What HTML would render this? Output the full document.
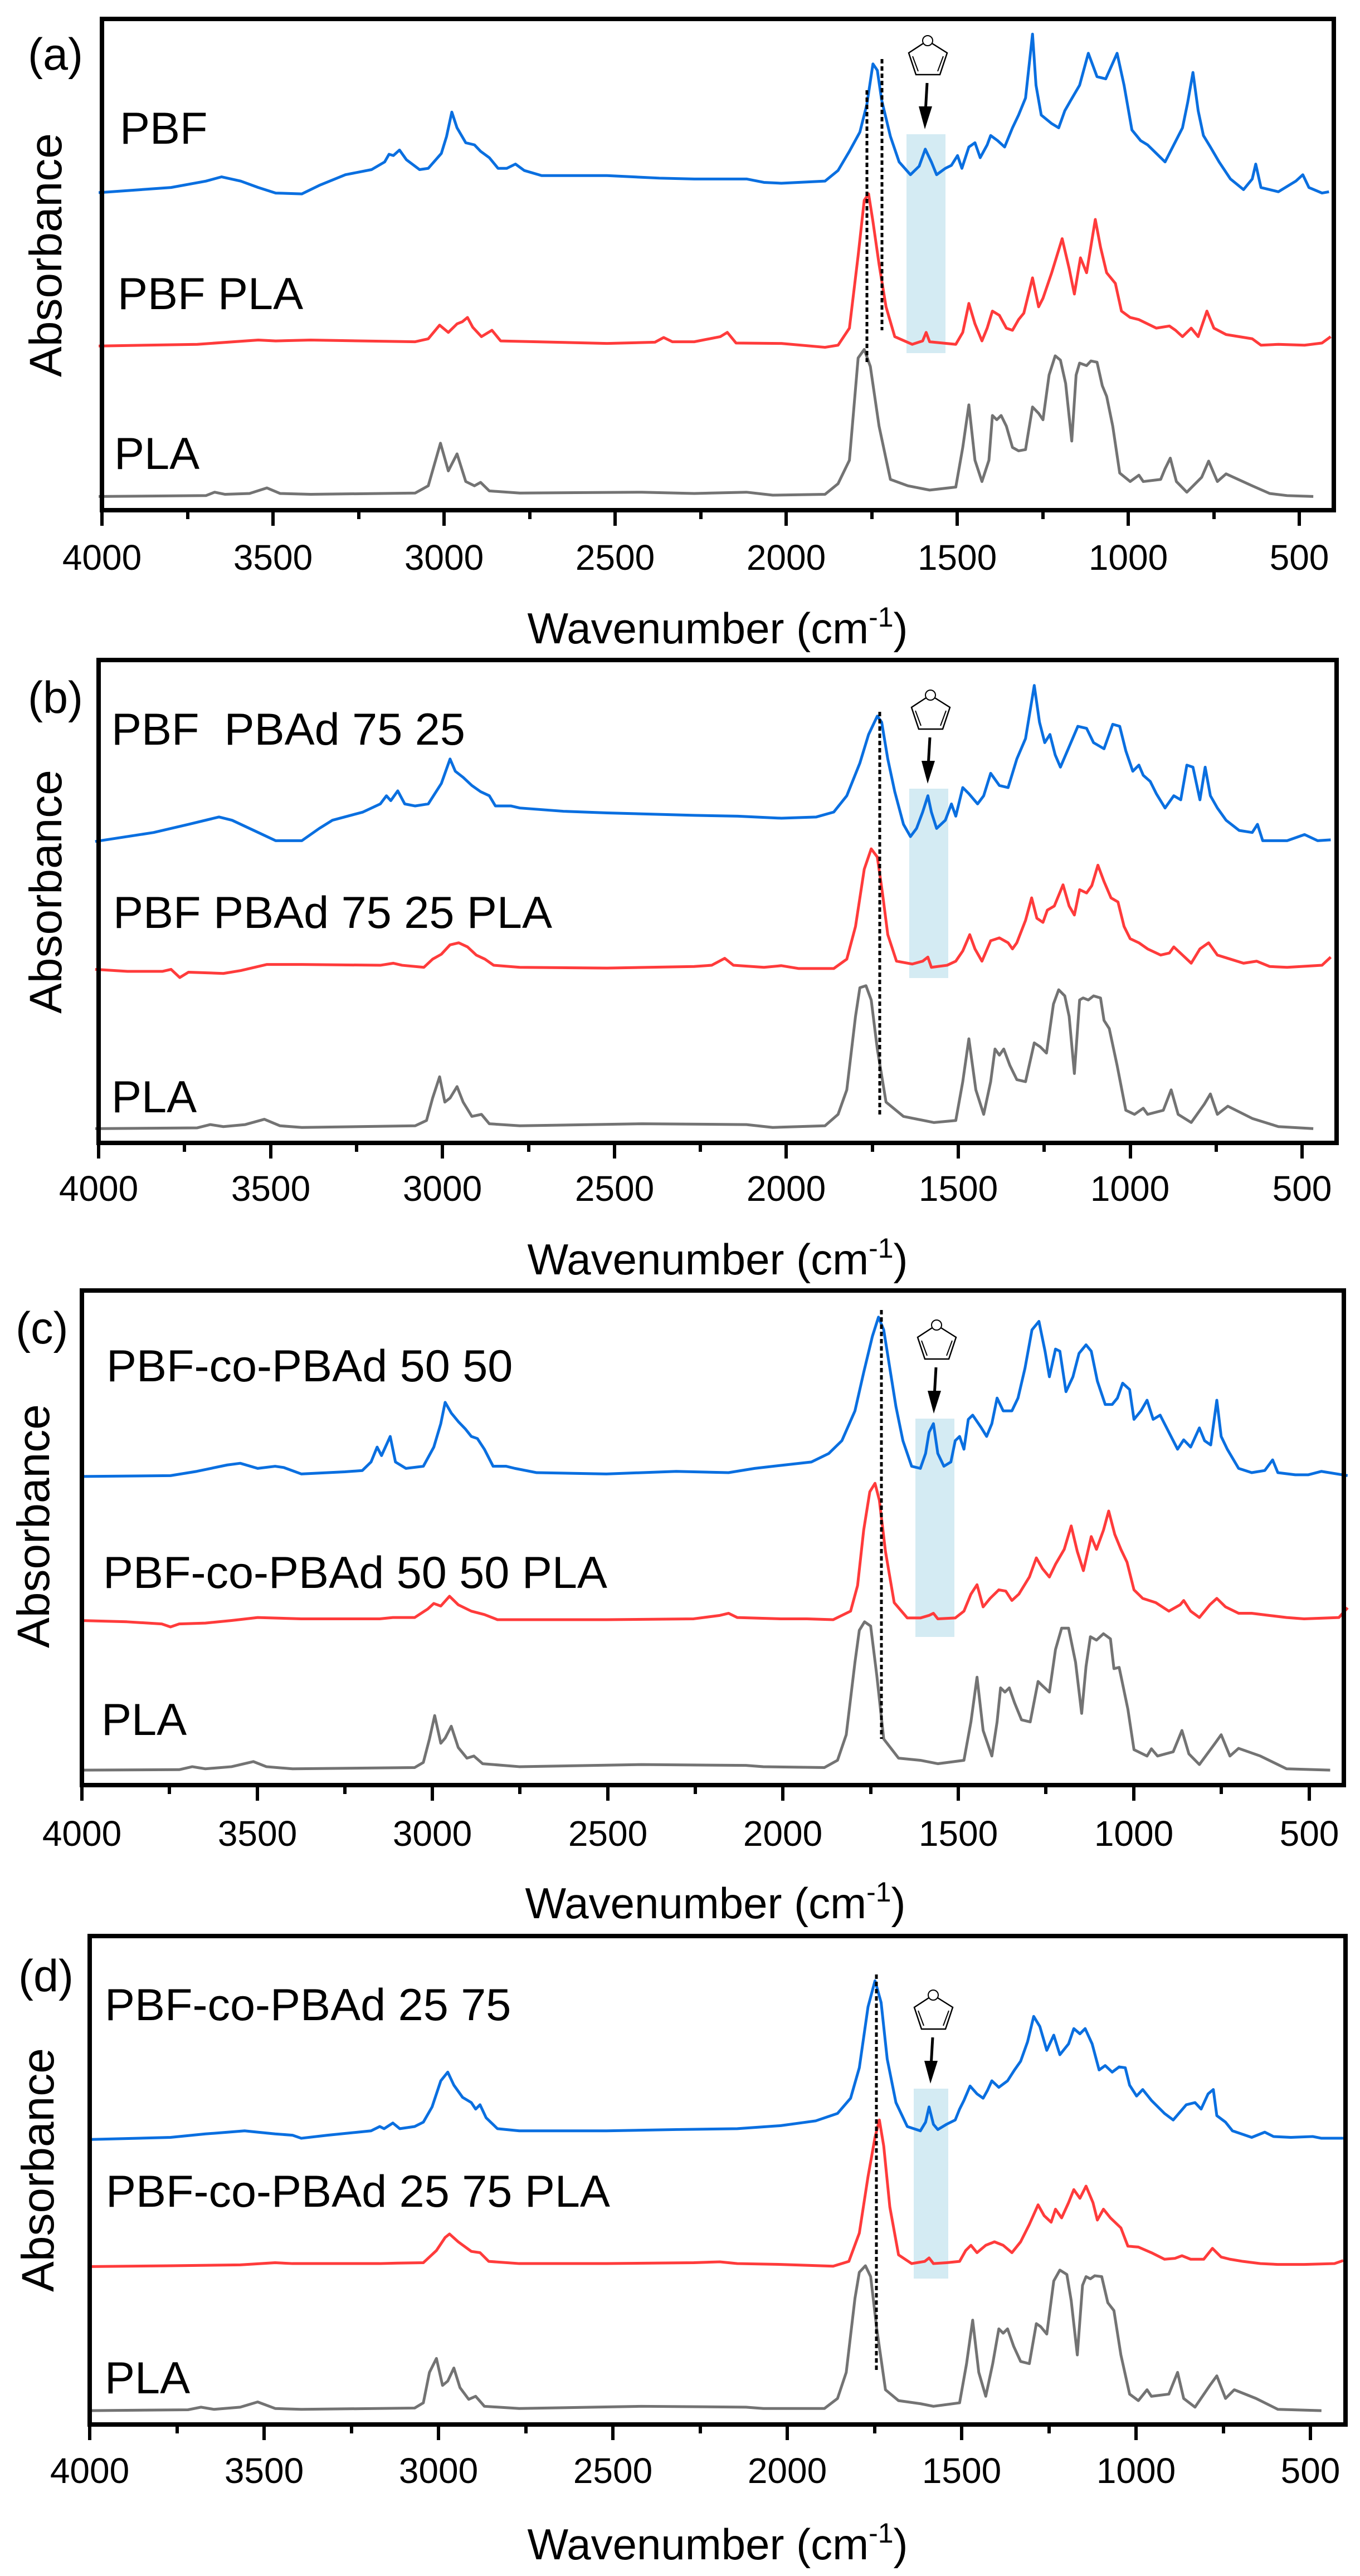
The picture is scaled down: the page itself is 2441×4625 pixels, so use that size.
<!DOCTYPE html>
<html><head><meta charset="utf-8"><style>
html,body{margin:0;padding:0;background:#fff;}
svg{display:block;}
text{font-family:"Liberation Sans",Arial,sans-serif;fill:#000;}
.tk{font-size:64px;text-anchor:middle;}
.lb{font-size:81px;}
.ttl{font-size:78px;text-anchor:middle;}
.ab{font-size:82px;text-anchor:middle;}
.b{fill:none;stroke:#0a6fe0;stroke-width:5;stroke-linejoin:round;}
.r{fill:none;stroke:#ff3b3b;stroke-width:5;stroke-linejoin:round;}
.g{fill:none;stroke:#737373;stroke-width:5;stroke-linejoin:round;}
.d{stroke:#000;stroke-width:5;stroke-dasharray:8 5;}
.fr{fill:none;stroke:#000;stroke-width:8;}
.mj{stroke:#000;stroke-width:6;}
.sh{fill:#d4ebf3;}
</style></head><body>
<svg width="2441" height="4625" viewBox="0 0 2441 4625" xmlns="http://www.w3.org/2000/svg">
<defs>
<g id="furan">
<circle cx="38" cy="-168" r="9" fill="none" stroke="#000" stroke-width="2"/>
<polyline points="30,-163 4,-146 17,-107 60,-107 73,-146 46,-163" fill="none" stroke="#000" stroke-width="2.5"/>
<line x1="11" y1="-140" x2="21" y2="-113" stroke="#000" stroke-width="2"/>
<line x1="66" y1="-140" x2="56" y2="-113" stroke="#000" stroke-width="2"/>
<line x1="37" y1="-92" x2="34" y2="-40" stroke="#000" stroke-width="5"/>
<polygon points="22,-50 46,-50 33,-9" fill="#000"/>
</g>
</defs>

<!-- ================= Panel (a) ================= -->
<rect class="sh" x="1627" y="241" width="70" height="393"/>
<use href="#furan" x="1627" y="241"/>
<g transform="translate(-6,0) matrix(1.565 0 0 0.7651 0 0)">
<polyline class="g" vector-effect="non-scaling-stroke" points="117,1165 240,1163 250,1155 262,1160 290,1158 310,1145 325,1158 360,1160 480,1157 495,1140 509,1040 518,1105 528,1065 538,1130 548,1140 555,1132 565,1152 600,1157 740,1155 800,1158 860,1155 890,1162 950,1160 965,1135 978,1080 988,840 995,820 1002,860 1012,1000 1025,1125 1045,1140 1070,1150 1100,1143 1108,1050 1115,950 1122,1080 1130,1130 1138,1080 1142,975 1147,985 1152,975 1158,1000 1165,1050 1172,1058 1180,1055 1188,955 1195,970 1200,985 1207,880 1214,835 1220,845 1226,900 1233,1035 1238,880 1242,852 1250,858 1255,847 1262,850 1268,905 1273,930 1280,1000 1288,1110 1300,1130 1310,1115 1315,1130 1335,1125 1340,1100 1346,1075 1353,1130 1365,1155 1382,1120 1390,1082 1400,1130 1410,1112 1440,1140 1460,1158 1480,1163 1510,1165"/>
<polyline class="r" vector-effect="non-scaling-stroke" points="117,812 230,808 300,798 320,800 360,798 480,802 495,795 508,763 518,780 528,760 534,755 540,745 546,768 556,790 568,775 578,800 700,806 755,803 765,792 775,802 800,802 830,790 838,780 848,805 900,806 950,815 965,810 978,770 988,600 995,470 1000,455 1005,520 1012,620 1020,720 1030,790 1050,808 1062,800 1066,780 1070,802 1100,808 1108,780 1115,712 1122,760 1130,800 1136,770 1142,730 1150,740 1158,770 1165,775 1172,750 1178,735 1188,652 1195,720 1200,700 1210,640 1222,560 1230,630 1236,690 1243,605 1250,640 1260,515 1266,580 1273,640 1283,665 1290,730 1300,745 1310,750 1330,770 1345,765 1352,775 1360,790 1370,770 1378,790 1388,730 1396,770 1410,785 1440,795 1450,810 1470,808 1500,810 1520,805 1530,790"/>
<polyline class="b" vector-effect="non-scaling-stroke" points="117,452 200,440 240,425 258,415 280,425 300,440 320,453 350,455 370,435 400,410 430,398 445,380 450,362 455,365 462,352 470,375 485,398 495,395 510,360 516,320 522,263 528,300 538,335 548,340 555,355 565,370 575,395 585,395 595,385 605,400 625,412 700,412 760,418 800,420 860,420 880,428 900,430 950,425 965,400 978,355 990,310 998,245 1005,150 1010,165 1015,235 1025,320 1035,380 1048,410 1058,390 1065,350 1072,380 1078,410 1088,395 1095,388 1102,365 1107,395 1115,345 1122,335 1128,370 1136,340 1140,318 1148,330 1156,345 1165,300 1172,270 1180,230 1188,80 1192,200 1198,270 1210,290 1218,300 1225,260 1232,235 1242,200 1252,125 1262,180 1272,185 1285,125 1293,200 1302,305 1312,330 1320,340 1330,360 1340,380 1350,340 1360,300 1366,240 1372,170 1378,260 1384,318 1392,345 1402,380 1415,420 1430,445 1440,420 1444,385 1450,440 1470,450 1490,425 1498,410 1505,440 1520,453 1528,450"/>
</g>
<line class="d" x1="1556" y1="162" x2="1556" y2="650"/>
<line class="d" x1="1583" y1="106" x2="1583" y2="593"/>
<rect class="fr" x="183" y="34" width="2211" height="882"/>
<g transform="translate(183,920)">
<line class="mj" x1="0" y1="0" x2="0" y2="24"/><line class="mj" x1="154" y1="0" x2="154" y2="12"/>
<line class="mj" x1="307" y1="0" x2="307" y2="24"/><line class="mj" x1="461" y1="0" x2="461" y2="12"/>
<line class="mj" x1="614" y1="0" x2="614" y2="24"/><line class="mj" x1="768" y1="0" x2="768" y2="12"/>
<line class="mj" x1="921" y1="0" x2="921" y2="24"/><line class="mj" x1="1075" y1="0" x2="1075" y2="12"/>
<line class="mj" x1="1228" y1="0" x2="1228" y2="24"/><line class="mj" x1="1382" y1="0" x2="1382" y2="12"/>
<line class="mj" x1="1535" y1="0" x2="1535" y2="24"/><line class="mj" x1="1689" y1="0" x2="1689" y2="12"/>
<line class="mj" x1="1842" y1="0" x2="1842" y2="24"/><line class="mj" x1="1996" y1="0" x2="1996" y2="12"/>
<line class="mj" x1="2149" y1="0" x2="2149" y2="24"/>
</g>
<g class="tk"><text x="183" y="1023">4000</text><text x="490" y="1023">3500</text><text x="797" y="1023">3000</text><text x="1104" y="1023">2500</text><text x="1411" y="1023">2000</text><text x="1718" y="1023">1500</text><text x="2025" y="1023">1000</text><text x="2332" y="1023">500</text></g>
<text class="ttl" x="1288" y="1155">Wavenumber (cm<tspan dy="-30" font-size="50">-1</tspan><tspan dy="30">)</tspan></text>
<text class="lb" x="50" y="125" font-size="78">(a)</text>
<text class="lb" x="215" y="258">PBF</text>
<text class="lb" x="211" y="555">PBF PLA</text>
<text class="lb" x="205" y="842">PLA</text>
<text class="ab" transform="translate(110,458) rotate(-90)">Absorbance</text>

<!-- ================= Panel (b) ================= -->
<rect class="sh" x="1632" y="1416" width="70" height="340"/>
<use href="#furan" x="1632" y="1416"/>
<g transform="translate(-6,0) matrix(1.565 0 0 0.7334 0 1150)">
<polyline class="g" vector-effect="non-scaling-stroke" points="113,1195 230,1193 245,1185 260,1190 285,1185 307,1172 325,1188 350,1192 480,1188 493,1175 500,1120 508,1068 514,1130 520,1120 528,1092 535,1130 545,1165 556,1160 565,1183 600,1188 740,1183 860,1185 890,1192 950,1188 965,1160 975,1100 985,920 990,850 997,845 1003,880 1010,1000 1020,1130 1040,1165 1075,1180 1100,1175 1108,1080 1115,975 1123,1100 1132,1160 1140,1080 1145,1000 1150,1015 1155,1000 1162,1040 1170,1075 1180,1080 1190,985 1197,995 1204,1010 1212,890 1218,855 1225,870 1230,920 1236,1060 1242,880 1246,875 1252,880 1258,870 1266,875 1270,930 1276,950 1285,1040 1295,1150 1305,1160 1315,1145 1320,1160 1338,1150 1347,1100 1355,1160 1370,1180 1385,1135 1392,1110 1400,1160 1412,1140 1440,1170 1470,1190 1510,1195"/>
<polyline class="r" vector-effect="non-scaling-stroke" points="113,805 150,810 190,810 200,805 210,825 220,812 260,815 280,808 310,793 350,793 440,795 455,790 465,795 490,800 500,780 510,768 520,745 530,740 540,750 550,770 560,780 570,795 600,800 700,802 800,798 820,795 835,778 845,795 880,800 900,796 920,803 960,803 975,780 985,700 995,560 1003,510 1010,530 1016,620 1022,720 1032,785 1050,792 1062,785 1068,775 1072,800 1090,795 1100,785 1108,760 1116,720 1122,755 1130,785 1140,735 1150,728 1160,740 1165,755 1170,740 1180,685 1187,630 1193,680 1200,690 1205,660 1213,650 1223,598 1230,650 1236,672 1242,610 1250,618 1256,600 1263,550 1270,590 1278,630 1286,640 1293,700 1300,730 1310,740 1320,755 1335,770 1345,765 1350,750 1360,770 1370,790 1380,755 1390,740 1400,770 1415,780 1430,790 1445,785 1460,798 1480,800 1520,795 1530,775"/>
<polyline class="b" vector-effect="non-scaling-stroke" points="113,492 180,470 220,450 255,432 270,440 300,470 320,490 350,490 370,460 385,440 420,420 440,400 447,380 452,392 460,368 468,400 480,405 495,400 510,350 520,290 526,320 535,335 545,355 555,370 565,380 572,405 590,405 600,410 650,418 700,422 800,428 850,430 900,435 940,432 960,420 975,380 990,300 1000,230 1010,185 1015,200 1022,290 1030,370 1040,450 1048,480 1055,460 1062,420 1068,380 1072,420 1078,460 1088,440 1095,400 1100,430 1108,360 1115,375 1125,400 1132,380 1140,325 1150,355 1160,360 1170,290 1180,240 1190,110 1196,200 1202,250 1208,230 1214,280 1220,310 1230,260 1240,210 1250,215 1258,250 1270,265 1280,205 1288,210 1295,270 1303,320 1310,305 1315,330 1323,345 1330,375 1340,410 1350,380 1358,390 1365,305 1372,310 1380,390 1386,310 1392,380 1400,410 1410,440 1425,465 1440,470 1446,450 1452,490 1480,490 1500,475 1515,490 1530,488"/>
</g>
<line class="d" x1="1579" y1="1278" x2="1579" y2="2003"/>
<rect class="fr" x="177" y="1185" width="2222" height="867"/>
<g transform="translate(177,2056)">
<line class="mj" x1="0" y1="0" x2="0" y2="24"/><line class="mj" x1="154" y1="0" x2="154" y2="12"/>
<line class="mj" x1="309" y1="0" x2="309" y2="24"/><line class="mj" x1="463" y1="0" x2="463" y2="12"/>
<line class="mj" x1="617" y1="0" x2="617" y2="24"/><line class="mj" x1="772" y1="0" x2="772" y2="12"/>
<line class="mj" x1="926" y1="0" x2="926" y2="24"/><line class="mj" x1="1080" y1="0" x2="1080" y2="12"/>
<line class="mj" x1="1234" y1="0" x2="1234" y2="24"/><line class="mj" x1="1389" y1="0" x2="1389" y2="12"/>
<line class="mj" x1="1543" y1="0" x2="1543" y2="24"/><line class="mj" x1="1697" y1="0" x2="1697" y2="12"/>
<line class="mj" x1="1852" y1="0" x2="1852" y2="24"/><line class="mj" x1="2006" y1="0" x2="2006" y2="12"/>
<line class="mj" x1="2160" y1="0" x2="2160" y2="24"/>
</g>
<g class="tk"><text x="177" y="2156">4000</text><text x="486" y="2156">3500</text><text x="794" y="2156">3000</text><text x="1103" y="2156">2500</text><text x="1411" y="2156">2000</text><text x="1720" y="2156">1500</text><text x="2028" y="2156">1000</text><text x="2337" y="2156">500</text></g>
<text class="ttl" x="1288" y="2288">Wavenumber (cm<tspan dy="-30" font-size="50">-1</tspan><tspan dy="30">)</tspan></text>
<text class="lb" x="50" y="1280" font-size="78">(b)</text>
<text class="lb" x="200" y="1337" xml:space="preserve">PBF  PBAd 75 25</text>
<text class="lb" x="203" y="1666">PBF PBAd 75 25 PLA</text>
<text class="lb" x="200" y="1997">PLA</text>
<text class="ab" transform="translate(110,1601) rotate(-90)">Absorbance</text>

<!-- ================= Panel (c) ================= -->
<rect class="sh" x="1643" y="2547" width="70" height="392"/>
<use href="#furan" x="1643" y="2547"/>
<g transform="translate(-7,0) matrix(1.565 0 0 0.7651 0 2250)">
<polyline class="g" vector-effect="non-scaling-stroke" points="97,1213 210,1212 225,1205 240,1210 270,1205 295,1193 310,1205 340,1210 480,1207 490,1195 497,1140 503,1085 510,1150 515,1138 522,1110 530,1160 540,1185 548,1180 558,1198 600,1205 740,1200 860,1202 880,1205 950,1207 965,1190 975,1130 985,960 990,885 996,865 1003,875 1010,990 1018,1140 1035,1185 1060,1190 1080,1198 1110,1190 1118,1100 1125,995 1132,1120 1142,1180 1148,1100 1152,1020 1157,1030 1162,1020 1168,1055 1176,1095 1186,1100 1195,1005 1200,1015 1208,1030 1215,930 1222,880 1230,880 1238,960 1245,1080 1250,970 1255,900 1262,908 1270,893 1278,905 1282,975 1288,972 1298,1070 1305,1165 1320,1180 1325,1163 1332,1180 1350,1170 1360,1120 1368,1175 1380,1200 1398,1150 1405,1130 1415,1180 1425,1162 1450,1180 1480,1210 1530,1213"/>
<polyline class="r" vector-effect="non-scaling-stroke" points="97,862 150,865 190,870 200,877 210,870 240,868 270,862 300,855 350,858 440,858 455,855 480,855 495,835 502,822 510,828 520,805 530,825 545,840 560,848 575,860 700,860 800,858 830,850 840,845 850,855 900,858 930,858 960,860 980,840 988,780 995,650 1002,560 1008,540 1013,580 1020,700 1030,820 1045,856 1060,856 1070,850 1075,845 1080,858 1100,856 1110,840 1118,800 1125,778 1132,830 1140,810 1150,790 1158,793 1165,815 1173,800 1185,760 1193,715 1200,740 1208,760 1215,730 1225,695 1233,640 1240,700 1247,745 1256,665 1262,695 1270,650 1276,605 1283,660 1290,695 1297,725 1305,790 1315,810 1330,820 1345,840 1358,825 1362,815 1370,840 1380,855 1392,825 1400,810 1410,830 1425,845 1440,845 1460,850 1480,855 1500,858 1540,855 1550,832"/>
<polyline class="b" vector-effect="non-scaling-stroke" points="97,524 200,522 230,512 265,497 280,493 300,505 320,500 330,503 350,518 400,513 420,510 430,490 437,455 442,475 452,430 458,490 470,505 490,500 502,455 510,400 515,350 522,375 530,395 538,412 545,430 552,435 560,460 570,500 585,500 595,505 620,515 700,518 780,512 840,515 870,505 900,498 935,490 955,470 970,440 985,370 995,280 1005,195 1012,150 1018,180 1025,270 1032,360 1040,440 1050,500 1060,505 1066,470 1070,420 1075,400 1080,470 1087,500 1095,490 1100,440 1105,430 1110,460 1115,390 1120,380 1130,410 1136,430 1142,400 1148,340 1155,370 1165,370 1172,340 1180,270 1188,180 1196,160 1203,230 1208,290 1215,225 1220,230 1227,325 1235,290 1242,235 1250,215 1256,230 1263,300 1272,355 1280,355 1286,340 1292,305 1300,320 1305,390 1313,370 1320,345 1327,390 1335,380 1345,420 1355,460 1362,438 1370,455 1380,410 1386,440 1393,450 1400,345 1405,430 1412,460 1425,505 1440,515 1455,510 1464,485 1470,515 1490,520 1505,520 1520,512 1550,522"/>
</g>
<line class="d" x1="1582" y1="2352" x2="1582" y2="3122"/>
<rect class="fr" x="147" y="2317" width="2265" height="888"/>
<g transform="translate(147,3209)">
<line class="mj" x1="0" y1="0" x2="0" y2="24"/><line class="mj" x1="157" y1="0" x2="157" y2="12"/>
<line class="mj" x1="315" y1="0" x2="315" y2="24"/><line class="mj" x1="472" y1="0" x2="472" y2="12"/>
<line class="mj" x1="629" y1="0" x2="629" y2="24"/><line class="mj" x1="786" y1="0" x2="786" y2="12"/>
<line class="mj" x1="944" y1="0" x2="944" y2="24"/><line class="mj" x1="1101" y1="0" x2="1101" y2="12"/>
<line class="mj" x1="1258" y1="0" x2="1258" y2="24"/><line class="mj" x1="1416" y1="0" x2="1416" y2="12"/>
<line class="mj" x1="1573" y1="0" x2="1573" y2="24"/><line class="mj" x1="1730" y1="0" x2="1730" y2="12"/>
<line class="mj" x1="1888" y1="0" x2="1888" y2="24"/><line class="mj" x1="2045" y1="0" x2="2045" y2="12"/>
<line class="mj" x1="2203" y1="0" x2="2203" y2="24"/>
</g>
<g class="tk"><text x="147" y="3314">4000</text><text x="462" y="3314">3500</text><text x="776" y="3314">3000</text><text x="1091" y="3314">2500</text><text x="1405" y="3314">2000</text><text x="1720" y="3314">1500</text><text x="2035" y="3314">1000</text><text x="2350" y="3314">500</text></g>
<text class="ttl" x="1284" y="3444">Wavenumber (cm<tspan dy="-30" font-size="50">-1</tspan><tspan dy="30">)</tspan></text>
<text class="lb" x="28" y="2412" font-size="78">(c)</text>
<text class="lb" x="191" y="2480">PBF-co-PBAd 50 50</text>
<text class="lb" x="185" y="2851">PBF-co-PBAd 50 50 PLA</text>
<text class="lb" x="182" y="3115">PLA</text>
<text class="ab" transform="translate(88,2740) rotate(-90)">Absorbance</text>

<!-- ================= Panel (d) ================= -->
<rect class="sh" x="1640" y="3750" width="62" height="341"/>
<use href="#furan" x="1637" y="3750"/>
<g transform="translate(-7,0) matrix(1.565 0 0 0.78125 0 3400)">
<polyline class="g" vector-effect="non-scaling-stroke" points="105,1188 220,1186 235,1180 250,1185 280,1180 300,1168 320,1183 350,1185 480,1182 490,1170 497,1100 505,1068 512,1130 518,1120 525,1090 532,1135 542,1162 550,1155 560,1178 600,1183 740,1178 860,1180 880,1183 950,1183 965,1160 975,1100 985,930 990,870 997,855 1003,880 1010,1000 1020,1140 1035,1165 1060,1172 1075,1178 1105,1170 1113,1080 1120,980 1127,1100 1135,1155 1143,1080 1150,1000 1155,1010 1160,1000 1167,1040 1175,1075 1185,1080 1193,988 1198,995 1205,1012 1213,890 1220,865 1228,875 1233,935 1240,1060 1246,900 1250,880 1255,885 1260,878 1268,880 1275,940 1282,958 1290,1060 1300,1150 1310,1165 1320,1140 1325,1155 1345,1150 1355,1100 1362,1160 1375,1180 1392,1130 1400,1108 1410,1160 1420,1140 1445,1160 1470,1185 1520,1188"/>
<polyline class="r" vector-effect="non-scaling-stroke" points="105,857 200,855 280,853 320,848 340,850 440,850 460,849 490,848 505,820 515,790 520,782 530,800 545,822 555,825 565,845 600,850 700,850 800,848 830,846 840,848 850,850 900,852 960,856 978,845 990,780 1000,650 1008,560 1013,520 1018,580 1025,720 1035,830 1050,850 1065,845 1070,837 1075,850 1090,848 1105,845 1112,820 1118,808 1125,825 1135,808 1145,800 1155,808 1165,825 1175,800 1185,760 1195,715 1202,740 1210,755 1215,725 1222,745 1230,710 1236,680 1243,700 1250,672 1258,710 1263,750 1270,725 1278,745 1290,768 1298,810 1310,812 1325,825 1340,840 1352,838 1360,832 1370,840 1385,840 1395,815 1405,835 1415,840 1430,845 1450,850 1470,852 1500,852 1535,850 1545,843"/>
<polyline class="b" vector-effect="non-scaling-stroke" points="105,565 200,560 240,552 260,549 285,545 300,548 320,552 340,555 350,562 380,555 430,545 440,535 445,540 455,527 463,540 480,535 490,525 500,490 510,430 518,410 525,440 535,468 545,480 550,495 555,485 562,515 575,540 600,545 700,545 780,542 850,540 900,533 940,522 965,505 980,470 990,400 1000,260 1008,200 1015,250 1022,380 1032,480 1045,535 1060,545 1066,525 1070,490 1075,530 1080,542 1090,530 1100,520 1105,495 1110,475 1117,442 1125,460 1132,470 1137,452 1142,430 1150,445 1160,430 1168,405 1175,385 1183,340 1190,282 1197,305 1205,360 1213,325 1220,370 1230,345 1236,310 1243,322 1249,310 1257,345 1265,405 1272,395 1280,410 1288,398 1295,400 1300,440 1308,465 1315,450 1325,475 1340,505 1350,520 1365,485 1375,480 1382,495 1390,460 1396,450 1400,510 1410,525 1418,545 1440,560 1455,548 1465,558 1485,560 1510,558 1520,562 1545,562"/>
</g>
<line class="d" x1="1573" y1="3545" x2="1573" y2="4260"/>
<rect class="fr" x="161" y="3476" width="2254" height="877"/>
<g transform="translate(161,4357)">
<line class="mj" x1="0" y1="0" x2="0" y2="24"/><line class="mj" x1="157" y1="0" x2="157" y2="12"/>
<line class="mj" x1="313" y1="0" x2="313" y2="24"/><line class="mj" x1="470" y1="0" x2="470" y2="12"/>
<line class="mj" x1="626" y1="0" x2="626" y2="24"/><line class="mj" x1="783" y1="0" x2="783" y2="12"/>
<line class="mj" x1="939" y1="0" x2="939" y2="24"/><line class="mj" x1="1096" y1="0" x2="1096" y2="12"/>
<line class="mj" x1="1252" y1="0" x2="1252" y2="24"/><line class="mj" x1="1409" y1="0" x2="1409" y2="12"/>
<line class="mj" x1="1565" y1="0" x2="1565" y2="24"/><line class="mj" x1="1722" y1="0" x2="1722" y2="12"/>
<line class="mj" x1="1878" y1="0" x2="1878" y2="24"/><line class="mj" x1="2035" y1="0" x2="2035" y2="12"/>
<line class="mj" x1="2191" y1="0" x2="2191" y2="24"/>
</g>
<g class="tk"><text x="161" y="4458">4000</text><text x="474" y="4458">3500</text><text x="787" y="4458">3000</text><text x="1100" y="4458">2500</text><text x="1413" y="4458">2000</text><text x="1726" y="4458">1500</text><text x="2039" y="4458">1000</text><text x="2352" y="4458">500</text></g>
<text class="ttl" x="1288" y="4595">Wavenumber (cm<tspan dy="-30" font-size="50">-1</tspan><tspan dy="30">)</tspan></text>
<text class="lb" x="33" y="3575" font-size="78">(d)</text>
<text class="lb" x="188" y="3627">PBF-co-PBAd 25 75</text>
<text class="lb" x="190" y="3962">PBF-co-PBAd 25 75 PLA</text>
<text class="lb" x="188" y="4297">PLA</text>
<text class="ab" transform="translate(96,3896) rotate(-90)">Absorbance</text>
</svg>
</body></html>
